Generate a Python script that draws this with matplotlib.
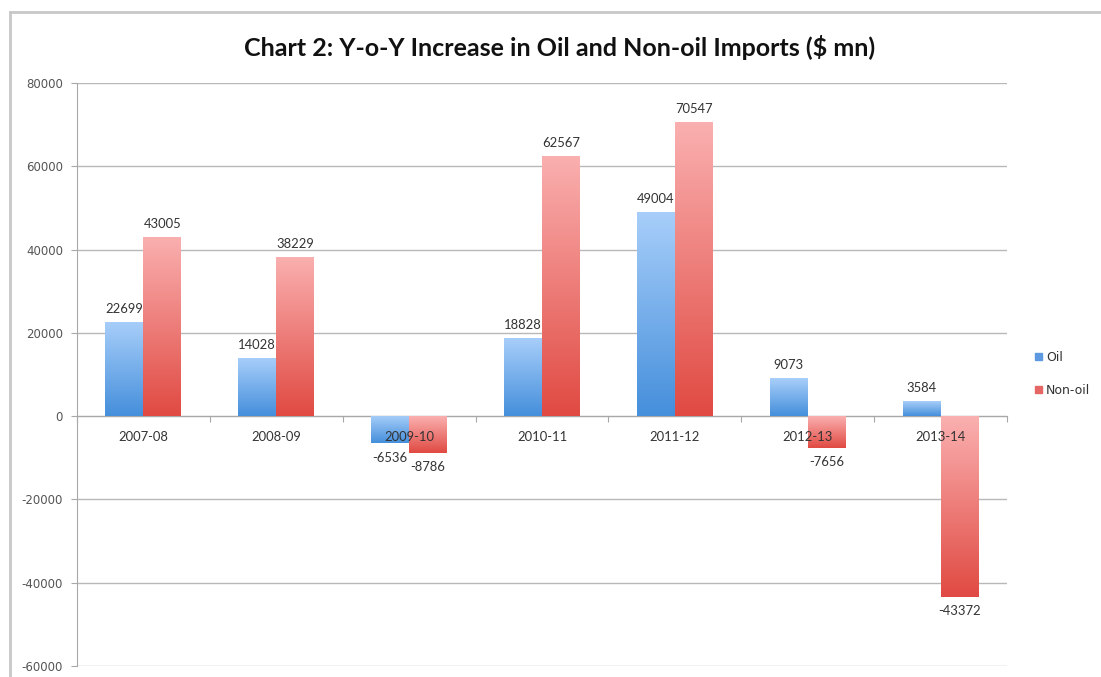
import matplotlib
matplotlib.use("Agg")
import matplotlib.pyplot as plt
import matplotlib.patches as mpatches
from matplotlib.lines import Line2D
import numpy as np
from matplotlib.colors import LinearSegmentedColormap

# data
years = ["2007-08", "2008-09", "2009-10", "2010-11", "2011-12", "2012-13", "2013-14"]
oil = [22699, 14028, -6536, 18828, 49004, 9073, 3584]
non_oil = [43005, 38229, -8786, 62567, 70547, -7656, -43372]
series_names = ["Oil", "Non-oil"]
y_ticks = [-60000, -40000, -20000, 0, 20000, 40000, 60000, 80000]

# light top -> dark bottom gradients, like the Excel fills
blue_cmap = LinearSegmentedColormap.from_list("b", [(0.66, 0.81, 0.98), (0.27, 0.56, 0.86)])
red_cmap = LinearSegmentedColormap.from_list("r", [(0.98, 0.69, 0.69), (0.88, 0.29, 0.26)])
blue_solid = (0.36, 0.60, 0.88)
red_solid = (0.90, 0.40, 0.40)

fig = plt.figure(figsize=(11.01, 6.77), dpi=100)
ax = fig.add_axes([77 / 1101, 1 - 666 / 677, (1007 - 77) / 1101, (666 - 83) / 677])

x = np.arange(len(years))
w = 0.286
bars_oil = ax.bar(x - w / 2, oil, w, color=blue_solid, label=series_names[0], zorder=2)
bars_non = ax.bar(x + w / 2, non_oil, w, color=red_solid, label=series_names[1], zorder=2)

grad = np.linspace(0, 1, 256).reshape(-1, 1)


def paint_gradient(bars, cmap):
    for b in bars:
        x0, y0 = b.get_x(), b.get_y()
        bw, bh = b.get_width(), b.get_height()
        lo, hi = min(y0, y0 + bh), max(y0, y0 + bh)
        im = ax.imshow(grad, cmap=cmap, aspect="auto", origin="upper",
                       extent=[x0, x0 + bw, lo, hi], zorder=3, interpolation="bilinear")
        im.set_clip_path(b)


paint_gradient(bars_oil, blue_cmap)
paint_gradient(bars_non, red_cmap)

ax.set_xlim(-0.5, len(years) - 0.5)
ax.set_ylim(-60000, 80000)

# value labels
for bars, vals in ((bars_oil, oil), (bars_non, non_oil)):
    for b, v in zip(bars, vals):
        cx = b.get_x() + b.get_width() / 2
        if v >= 0:
            ax.annotate(str(v), (cx, v), xytext=(0, 5), textcoords="offset points",
                        ha="center", va="bottom", fontsize=9.4, family="Lato", color="#333333", zorder=6)
        else:
            ax.annotate(str(v), (cx, v), xytext=(0, -6), textcoords="offset points",
                        ha="center", va="top", fontsize=9.4, family="Lato", color="#333333", zorder=6)

# category labels sit just under the zero line, on top of the bars
for xi, lab in zip(x, years):
    ax.annotate(lab, (xi, 0), xytext=(0, -10.5), textcoords="offset points",
                ha="center", va="top", fontsize=9.4, family="Lato", color="#333333", zorder=6)

# axes styling
for s in ["top", "right"]:
    ax.spines[s].set_visible(False)
ax.spines["left"].set_color("#a8a8a8")
ax.spines["bottom"].set_position(("data", 0))
ax.spines["bottom"].set_color("#a8a8a8")
ax.set_xticks(np.arange(-0.5, len(years)), minor=False)
ax.set_xticklabels([])
ax.tick_params(axis="x", length=4, color="#a8a8a8", direction="out")
ax.set_yticks(y_ticks)
ax.set_yticklabels([str(t) for t in y_ticks], fontsize=8.5, family="DejaVu Sans", color="#555555")
ax.tick_params(axis="y", length=4, color="#a8a8a8", pad=6)
ax.yaxis.grid(True, color="#b8b8b8", linewidth=1)
ax.set_axisbelow(True)

fig.text(560 / 1101, 1 - 47 / 677, "Chart 2: Y-o-Y Increase in Oil and Non-oil Imports ($ mn)",
         ha="center", va="center", fontsize=18, fontweight="bold", family="Lato", color="#111111")

leg = fig.legend(handles=[mpatches.Patch(color=blue_solid, label=series_names[0]),
                          mpatches.Patch(color=red_solid, label=series_names[1])],
                 loc="center left", bbox_to_anchor=(1024 / 1101, 1 - 374 / 677),
                 frameon=False, handlelength=0.55, handleheight=0.55, handletextpad=0.3,
                 labelspacing=1.6, prop={"family": "DejaVu Sans", "size": 9})
for t in leg.get_texts():
    t.set_color("#333333")

# outer chart frame: only its top and left edges fall inside the picture
fig.add_artist(Line2D([10 / 1101, 1.0], [1 - 12 / 677] * 2, transform=fig.transFigure,
                      color="#c8c8c8", linewidth=2))
fig.add_artist(Line2D([10 / 1101] * 2, [0.0, 1 - 12 / 677], transform=fig.transFigure,
                      color="#c8c8c8", linewidth=2))

fig.savefig("out.png", dpi=100)
